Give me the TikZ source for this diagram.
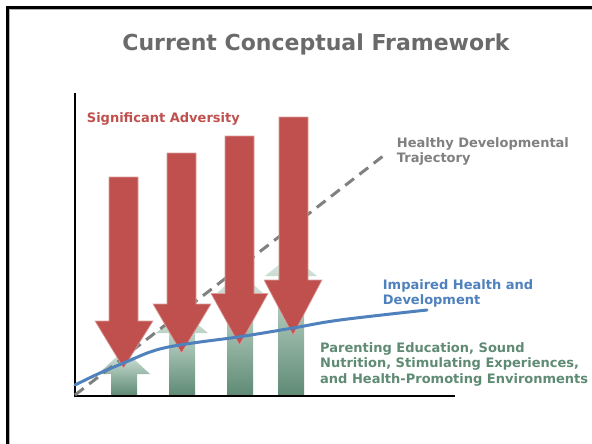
\documentclass[tikz,border=0pt]{standalone}
\usepackage{fontspec}
\setmainfont{DejaVu Sans}
\definecolor{advred}{HTML}{C0504D}
\definecolor{impblue}{HTML}{4F81BD}
\definecolor{ngreen}{HTML}{5F8B75}
\definecolor{palegreen}{HTML}{DCEBE3}
\definecolor{trajgray}{HTML}{808080}
\definecolor{titlegray}{HTML}{6A6A6A}
\tikzset{
  lbl/.style={inner sep=0pt, align=left, font=\bfseries\fontsize{13}{15.5}\selectfont},
  redarrow/.style={fill=advred, draw=advred!55!white, line width=0.6pt},
  greenarrow/.style={bottom color=ngreen, top color=palegreen, draw=none},
  axisline/.style={line width=2pt, black},
  framebar/.style={line width=2.6pt, black},
}
% green up arrow: #1 center x, #2 half shaft, #3 head base y, #4 tip y
\newcommand{\greenup}[4]{%
  \shade[greenarrow] (#1-#2,395) -- (#1-#2,#3) -- (#1-26,#3) -- (#1,#4) -- (#1+26,#3) -- (#1+#2,#3) -- (#1+#2,395) -- cycle;}
% red down arrow: #1 shaft left, #2 shaft right, #3 top, #4 head left, #5 head right, #6 head top, #7 tip x, #8 tip y
\newcommand{\reddown}[8]{%
  \draw[redarrow] (#1,#3) -- (#2,#3) -- (#2,#6) -- (#5,#6) -- (#7,#8) -- (#4,#6) -- (#1,#6) -- cycle;}
\begin{document}
\begin{tikzpicture}[x=1pt, y=-1pt]
\useasboundingbox (0,0) rectangle (592,444);
\fill[white] (0,0) rectangle (592,444);
% frame
\draw[gray!60, line width=1pt] (9.5,9.5) -- (592,9.5);
\draw[gray!60, line width=1pt] (9.5,9.5) -- (9.5,444);
\draw[framebar] (6.2,7.5) -- (592,7.5);
\draw[framebar] (7.5,6.2) -- (7.5,444);

% title
\node[inner sep=0pt, anchor=base, text=titlegray, font=\bfseries\fontsize{22}{26}\selectfont] (title) at (316,51) {Current Conceptual Framework};

% green upward arrows
\greenup{124}{13}{374}{350}
\greenup{182}{13}{333}{311}
\greenup{240}{13}{296}{272}
\greenup{291}{13}{276}{255}

% axes
\draw[axisline] (75,93) -- (75,395.5) -- (455,395.5);

% healthy trajectory (dashed)
\coordinate (orig) at (75,395);
\coordinate (trajend) at (387,153);
\draw[trajgray, line width=3pt, dash pattern=on 11pt off 7pt] (orig) -- (trajend);

% red downward arrows
\reddown{109}{138}{177}{95}{153}{321}{123.5}{368}
\reddown{167}{196}{153}{153}{211}{304}{181.5}{353}
\reddown{225}{254}{136}{211}{268}{293.5}{239.5}{345}
\reddown{279}{308}{117}{264}{322}{280}{293}{335}

% impaired curve
\draw[impblue, line width=3pt, line cap=round] plot[smooth, tension=0.6] coordinates {
  (75,385) (100,373) (126.7,361.7) (150,352) (170,346.7) (200,342) (240,336.7) (293,328) (340,320) (427,310)};

% labels
\node[lbl, anchor=base west, text=advred] (adv) at (86.7,122.3) {Significant Adversity};
\node[lbl, anchor=north west, text=trajgray] (traj) at (396.7,137.1) {Healthy Developmental\\Trajectory};
\node[lbl, anchor=north west, text=impblue] (imp) at (382.7,279.1) {Impaired Health and\\Development};
\node[lbl, anchor=north west, text=ngreen] (prot) at (320,342.1) {Parenting Education, Sound\\Nutrition, Stimulating Experiences,\\and Health-Promoting Environments};
\end{tikzpicture}
\end{document}
